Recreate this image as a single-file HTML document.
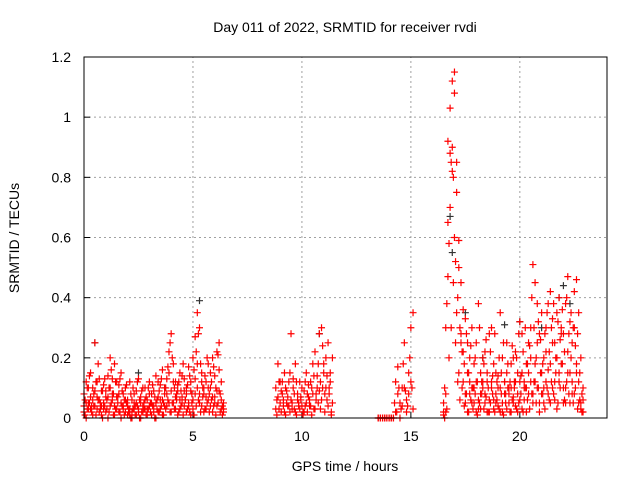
<!DOCTYPE html>
<html><head><meta charset="utf-8"><style>
body{margin:0;background:#fff;}
svg{display:block;font-family:"Liberation Sans",sans-serif;}
</style></head><body>
<svg id="chart" width="640" height="480" xmlns="http://www.w3.org/2000/svg">
<rect width="640" height="480" fill="#fff"/>
<text x="345" y="32" text-anchor="middle" font-size="14">Day 011 of 2022, SRMTID for receiver rvdi</text>
<text x="345" y="471" text-anchor="middle" font-size="14">GPS time / hours</text>
<text transform="translate(19,238) rotate(-90)" text-anchor="middle" font-size="14">SRMTID / TECUs</text>
<g id="grid"></g>
<g id="ticks"></g>
<g id="points"></g>
<rect x="84" y="57" width="523" height="361" fill="none" stroke="#000" stroke-width="1"/>
</svg>
<script>
const xTicks=[0,5,10,15,20];
const yTicks=[0,0.2,0.4,0.6,0.8,1,1.2];
const yTickLabels=["0","0.2","0.4","0.6","0.8","1","1.2"];
const timesA=[0.0,0.1,0.2,0.3,0.4,0.5,0.6,0.7,0.8,0.9,1.0,1.1,1.2,1.3,1.4,1.5,1.6,1.7,1.8,1.9,2.0,2.1,2.2,2.3,2.4,2.5,2.6,2.7,2.8,2.9,3.0,3.1,3.2,3.3,3.4,3.5,3.6,3.7,3.8,3.9,4.0,4.1,4.2,4.3,4.4,4.5,4.6,4.7,4.8,4.9,5.0,5.1,5.2,5.3,5.4,5.5,5.6,5.7,5.8,5.9,6.0,6.1,6.2,6.3,6.4];
const valuesA1=[0.08,0.12,0.05,0.15,0.10,0.25,0.07,0.13,0.04,0.11,0.09,0.14,0.20,0.06,0.18,0.12,0.08,0.15,0.03,0.10,0.06,0.12,0.02,0.08,0.05,0.13,0.07,0.04,0.10,0.06,0.12,0.05,0.09,0.14,0.07,0.11,0.16,0.08,0.13,0.22,0.28,0.18,0.12,0.09,0.15,0.07,0.13,0.10,0.17,0.12,0.20,0.27,0.35,0.30,0.15,0.08,0.12,0.18,0.10,0.07,0.14,0.22,0.25,0.12,0.05];
const valuesA2=[0.02,0.05,0.10,0.03,0.06,0.04,0.12,0.02,0.09,0.05,0.02,0.07,0.10,0.13,0.04,0.03,0.11,0.05,0.08,0.02,0.04,0.01,0.06,0.03,0.09,0.02,0.05,0.10,0.03,0.01,0.04,0.08,0.02,0.05,0.12,0.03,0.06,0.10,0.04,0.15,0.09,0.05,0.03,0.11,0.06,0.14,0.04,0.08,0.05,0.09,0.06,0.13,0.18,0.08,0.04,0.10,0.03,0.06,0.15,0.20,0.05,0.09,0.16,0.03,0.02];
const valuesA3=[0.04,0.00,0.03,0.07,0.01,0.09,0.03,0.06,0.01,0.03,0.07,0.00,0.04,0.08,0.01,0.07,0.02,0.00,0.04,0.06,0.01,0.03,0.00,0.05,0.01,0.03,0.00,0.02,0.06,0.03,0.08,0.01,0.04,0.00,0.02,0.06,0.01,0.04,0.08,0.05,0.02,0.12,0.07,0.01,0.03,0.05,0.09,0.02,0.04,0.01,0.03,0.08,0.10,0.05,0.12,0.02,0.07,0.10,0.04,0.02,0.07,0.04,0.09,0.06,0.03];
const timesAh=[0.05,0.15,0.25,0.35,0.45,0.55,0.65,0.75,0.85,0.95,1.05,1.15,1.25,1.35,1.45,1.55,1.65,1.75,1.85,1.95,2.05,2.15,2.25,2.35,2.45,2.55,2.65,2.75,2.85,2.95,3.05,3.15,3.25,3.35,3.45,3.55,3.65,3.75,3.85,3.95,4.05,4.15,4.25,4.35,4.45,4.55,4.65,4.75,4.85,4.95,5.05,5.15,5.25,5.35,5.45,5.55,5.65,5.75,5.85,5.95,6.05,6.15,6.25,6.35];
const valuesAh1=[0.06,0.10,0.14,0.04,0.08,0.12,0.18,0.05,0.09,0.13,0.03,0.10,0.16,0.08,0.12,0.05,0.13,0.09,0.06,0.11,0.03,0.08,0.10,0.04,0.12,0.06,0.09,0.03,0.07,0.10,0.05,0.11,0.07,0.03,0.09,0.13,0.05,0.10,0.17,0.25,0.20,0.10,0.06,0.12,0.09,0.18,0.06,0.11,0.14,0.08,0.16,0.22,0.28,0.18,0.10,0.14,0.20,0.08,0.12,0.17,0.10,0.21,0.08,0.04];
const valuesAh2=[0.01,0.03,0.05,0.02,0.04,0.01,0.06,0.03,0.00,0.04,0.06,0.02,0.05,0.01,0.03,0.07,0.02,0.04,0.01,0.05,0.02,0.00,0.03,0.01,0.04,0.00,0.02,0.05,0.01,0.03,0.02,0.04,0.00,0.06,0.02,0.04,0.01,0.03,0.06,0.02,0.05,0.03,0.08,0.02,0.04,0.01,0.06,0.03,0.02,0.05,0.01,0.04,0.06,0.02,0.07,0.03,0.05,0.02,0.06,0.04,0.01,0.05,0.02,0.01];
const timesB=[8.8,8.9,9.0,9.1,9.2,9.3,9.4,9.5,9.6,9.7,9.8,9.9,10.0,10.1,10.2,10.3,10.4,10.5,10.6,10.7,10.8,10.9,11.0,11.1,11.2,11.3,11.4];
const valuesB1=[0.10,0.18,0.12,0.08,0.15,0.05,0.12,0.28,0.10,0.18,0.06,0.12,0.04,0.09,0.15,0.07,0.12,0.18,0.22,0.10,0.28,0.30,0.15,0.20,0.25,0.12,0.05];
const valuesB2=[0.03,0.07,0.05,0.12,0.02,0.09,0.04,0.06,0.13,0.02,0.08,0.03,0.10,0.02,0.05,0.11,0.04,0.08,0.03,0.14,0.09,0.06,0.18,0.10,0.04,0.15,0.20];
const timesBh=[8.85,8.95,9.05,9.15,9.25,9.35,9.45,9.55,9.65,9.75,9.85,9.95,10.05,10.15,10.25,10.35,10.45,10.55,10.65,10.75,10.85,10.95,11.05,11.15,11.25,11.35];
const valuesBh1=[0.06,0.12,0.09,0.04,0.10,0.07,0.15,0.03,0.08,0.12,0.05,0.07,0.02,0.12,0.08,0.04,0.10,0.14,0.06,0.18,0.12,0.24,0.08,0.14,0.10,0.02];
const valuesBh2=[0.01,0.03,0.02,0.06,0.01,0.04,0.02,0.05,0.03,0.01,0.04,0.06,0.01,0.04,0.02,0.06,0.01,0.03,0.08,0.05,0.03,0.10,0.02,0.06,0.08,0.01];
const timesC=[13.5,13.6,13.7,13.8,13.9,14.0,14.1,14.2,14.3,14.4,14.5,14.6,14.7,14.8,14.9,15.0,15.1];
const valuesC1=[0,0,0,0,0,0,0,0,0.12,0.17,0.05,0.10,0.25,0.06,0.15,0.30,0.35];
const valuesC2=[0,0,0,0,0,0,0,0,0.02,0.08,0.00,0.04,0.10,0.02,0.08,0.12,0.03];
const timesCh=[14.25,14.35,14.45,14.55,14.65,14.75,14.85,14.95,15.05];
const valuesCh=[0.05,0.02,0.10,0.03,0.18,0.09,0.04,0.20,0.10];
const timesD=[16.5,16.6,16.7,16.8,16.9,17.0,17.1,17.2,17.3,17.4,17.5,17.6,17.7,17.8,17.9,18.0,18.1,18.2,18.3,18.4,18.5,18.6,18.7,18.8,18.9,19.0,19.1,19.2,19.3,19.4,19.5,19.6,19.7,19.8,19.9,20.0,20.1,20.2,20.3,20.4,20.5,20.6,20.7,20.8,20.9,21.0,21.1,21.2,21.3,21.4,21.5,21.6,21.7,21.8,21.9,22.0,22.1,22.2,22.3,22.4,22.5,22.6,22.7,22.8,22.9];
const valuesD1=[0.02,0.30,0.47,0.70,0.90,1.15,0.75,0.59,0.45,0.36,0.33,0.25,0.20,0.30,0.18,0.25,0.38,0.15,0.10,0.22,0.12,0.28,0.30,0.18,0.08,0.14,0.35,0.20,0.12,0.25,0.10,0.18,0.07,0.22,0.15,0.32,0.28,0.12,0.18,0.25,0.30,0.51,0.45,0.38,0.28,0.35,0.20,0.30,0.38,0.42,0.33,0.25,0.35,0.40,0.30,0.28,0.38,0.47,0.32,0.25,0.42,0.46,0.35,0.20,0.10];
const valuesD2=[0.01,0.08,0.65,0.88,1.12,1.08,0.85,0.50,0.25,0.12,0.05,0.15,0.08,0.10,0.05,0.12,0.03,0.08,0.20,0.05,0.15,0.02,0.10,0.06,0.15,0.04,0.10,0.02,0.08,0.15,0.05,0.10,0.20,0.04,0.08,0.12,0.03,0.06,0.10,0.15,0.20,0.08,0.12,0.25,0.05,0.15,0.10,0.22,0.08,0.18,0.25,0.12,0.20,0.15,0.28,0.10,0.05,0.22,0.15,0.08,0.30,0.18,0.12,0.05,0.02];
const valuesD3=[0.05,0.02,0.92,1.03,0.82,0.60,0.35,0.15,0.28,0.22,0.08,0.02,0.12,0.05,0.10,0.02,0.06,0.03,0.12,0.08,0.02,0.06,0.12,0.03,0.05,0.10,0.02,0.05,0.12,0.03,0.08,0.02,0.05,0.12,0.02,0.06,0.15,0.10,0.02,0.08,0.12,0.05,0.18,0.10,0.02,0.08,0.05,0.12,0.16,0.05,0.10,0.06,0.03,0.12,0.18,0.05,0.10,0.15,0.05,0.12,0.08,0.15,0.05,0.03,0.06];
const timesDh=[16.55,16.65,16.75,16.85,16.95,17.05,17.15,17.25,17.35,17.45,17.55,17.65,17.75,17.85,17.95,18.05,18.15,18.25,18.35,18.45,18.55,18.65,18.75,18.85,18.95,19.05,19.15,19.25,19.35,19.45,19.55,19.65,19.75,19.85,19.95,20.05,20.15,20.25,20.35,20.45,20.55,20.65,20.75,20.85,20.95,21.05,21.15,21.25,21.35,21.45,21.55,21.65,21.75,21.85,21.95,22.05,22.15,22.25,22.35,22.45,22.55,22.65,22.75,22.85];
const valuesDh1=[0.10,0.38,0.58,0.85,0.80,0.52,0.40,0.30,0.22,0.18,0.28,0.15,0.24,0.10,0.20,0.12,0.30,0.08,0.18,0.26,0.10,0.22,0.14,0.28,0.12,0.20,0.15,0.25,0.08,0.18,0.12,0.24,0.10,0.20,0.28,0.14,0.22,0.30,0.18,0.24,0.40,0.30,0.20,0.32,0.26,0.18,0.28,0.35,0.22,0.30,0.38,0.20,0.32,0.26,0.36,0.22,0.40,0.28,0.35,0.30,0.24,0.28,0.15,0.08];
const valuesDh2=[0.00,0.03,0.20,0.30,0.45,0.25,0.12,0.06,0.10,0.04,0.08,0.02,0.06,0.03,0.08,0.01,0.05,0.12,0.03,0.07,0.02,0.05,0.08,0.02,0.06,0.03,0.08,0.01,0.05,0.10,0.02,0.06,0.12,0.03,0.05,0.08,0.02,0.10,0.06,0.03,0.08,0.12,0.05,0.10,0.15,0.08,0.03,0.10,0.06,0.12,0.08,0.15,0.05,0.10,0.18,0.06,0.12,0.08,0.20,0.05,0.10,0.03,0.06,0.02];
const blackTimes=[0.5,5.3,16.8,16.9,22.0,21.8,19.3,20.0,2.5,10.8,17.5,18.3,22.3,21.0,3.7];
const blackValues=[0.25,0.39,0.67,0.55,0.44,0.40,0.31,0.32,0.15,0.28,0.35,0.20,0.38,0.30,0.10];

const X0=84,X1=607,Y0=418,Y1=57,XMAX=24,YMAX=1.2;
const xs=t=>X0+t/XMAX*(X1-X0);
const ys=v=>Y0-v/YMAX*(Y0-Y1);
const NS="http://www.w3.org/2000/svg";
const grid=document.getElementById('grid'),ticks=document.getElementById('ticks'),pts=document.getElementById('points');
function mk(tag,attrs,parent){const e=document.createElementNS(NS,tag);for(const k in attrs)e.setAttribute(k,attrs[k]);parent.appendChild(e);return e;}
xTicks.forEach(t=>{
  const x=xs(t);
  if(t>0){const g=mk('line',{x1:x,x2:x,y1:Y0,y2:Y1,stroke:'#a0a0a0','stroke-dasharray':'2,3'},grid);
  
  }
  const tl=mk('text',{x:x,y:Y0+23,'text-anchor':'middle','font-size':'14'},ticks);tl.textContent=t;
  
  
  mk('line',{x1:x,x2:x,y1:Y0,y2:Y0-6,stroke:'#000'},ticks);
});
yTicks.forEach((v,i)=>{
  const y=ys(v);
  if(v>0&&v<YMAX){const g=mk('line',{x1:X0,x2:X1,y1:y,y2:y,stroke:'#a0a0a0','stroke-dasharray':'2,3'},grid);
  
  }
  const tl=mk('text',{x:X0-13,y:y+5,'text-anchor':'end','font-size':'14'},ticks);tl.textContent=yTickLabels[i];
  
  
  mk('line',{x1:X0,x2:X0+6,y1:y,y2:y,stroke:'#000'},ticks);
});
function plus(t,v,color){
  const x=xs(t),y=ys(v);
  const p=mk('path',{d:`M${x-3.5},${y}h7M${x},${y-3.5}v7`,stroke:color,'stroke-width':'1.2',fill:'none'},pts);
  
  
}
function series(times,vals,color){const n=Math.min(times.length,vals.length);for(let i=0;i<n;i++)plus(times[i],vals[i],color);}
series(blackTimes,blackValues,'#333');
[valuesA1,valuesA2,valuesA3].forEach(v=>series(timesA,v,'#ff0000'));
[valuesAh1,valuesAh2].forEach(v=>series(timesAh,v,'#ff0000'));
[valuesB1,valuesB2].forEach(v=>series(timesB,v,'#ff0000'));
[valuesBh1,valuesBh2].forEach(v=>series(timesBh,v,'#ff0000'));
[valuesC1,valuesC2].forEach(v=>series(timesC,v,'#ff0000'));
series(timesCh,valuesCh,'#ff0000');
[valuesD1,valuesD2,valuesD3].forEach(v=>series(timesD,v,'#ff0000'));
[valuesDh1,valuesDh2].forEach(v=>series(timesDh,v,'#ff0000'));
</script>
</body></html>
